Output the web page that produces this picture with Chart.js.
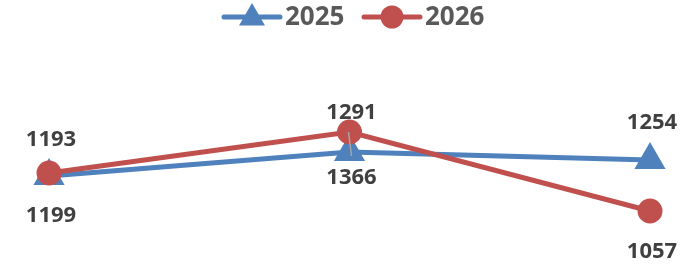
<!DOCTYPE html>
<html>
<head>
<meta charset="utf-8">
<script src="https://cdn.jsdelivr.net/npm/chart.js@4.4.1/dist/chart.umd.min.js"></script>
<style>
  html, body { margin: 0; padding: 0; background: #fff; }
  #grafico { display: block; }
</style>
</head>
<body>
<canvas id="grafico" width="692" height="270"></canvas>
<script>
// categorias (eixo oculto) e séries
const categorias = ["1", "2", "3"];
const serieNomes = ["2025", "2026"];
// altura de cada ponto numa escala oculta de 8 a 230
const valores2025 = [84, 108, 100];
const valores2026 = [87, 128, 49];
// rótulos mostrados junto aos pontos
const rotulos2025 = ["1199", "1366", "1254"];
const rotulos2026 = ["1193", "1291", "1057"];

const corAzul = "#4F81BD";
const corVermelha = "#C0504D";
const fonte = "'Open Sans', 'Liberation Sans', sans-serif";

// deslocamento vertical de cada rótulo em relação ao ponto
const deslocRotulos = [
  [40, 26, -37],
  [-33, -19, 41],
];

const pluginRotulos = {
  id: "rotulos",
  afterDatasetsDraw(chart) {
    const ctx = chart.ctx;
    ctx.save();

    // linha guia cinza do ponto do meio
    const a = chart.getDatasetMeta(1).data[1];
    const b = chart.getDatasetMeta(0).data[1];
    ctx.strokeStyle = "#A6A6A6";
    ctx.lineWidth = 1.5;
    ctx.beginPath();
    ctx.moveTo(a.x - 1, a.y);
    ctx.lineTo(b.x + 2, b.y + 4);
    ctx.stroke();

    ctx.font = "bold 22px " + fonte;
    ctx.fillStyle = "#404040";
    ctx.textAlign = "center";
    ctx.textBaseline = "middle";
    chart.data.datasets.forEach((ds, i) => {
      const meta = chart.getDatasetMeta(i);
      meta.data.forEach((pt, j) => {
        ctx.fillText(ds.rotulos[j], pt.x + 2, pt.y + deslocRotulos[i][j]);
      });
    });
    ctx.restore();
  },
};

const pluginLegenda = {
  id: "legendaLinha",
  afterDraw(chart) {
    const ctx = chart.ctx;
    const y = 17;
    const inicios = [224, 364];
    ctx.save();
    chart.data.datasets.forEach((ds, i) => {
      const x0 = inicios[i];
      ctx.strokeStyle = ds.borderColor;
      ctx.lineWidth = 5;
      ctx.lineCap = "round";
      ctx.beginPath();
      ctx.moveTo(x0, y);
      ctx.lineTo(x0 + 56, y);
      ctx.stroke();
      Chart.helpers.drawPoint(ctx, {
        pointStyle: ds.pointStyle,
        radius: ds.pointStyle === "triangle" ? 10 : 9,
        borderWidth: 1,
      }, x0 + 28, ds.pointStyle === "triangle" ? y + 1 : y);
      ctx.fillStyle = ds.borderColor;
      ctx.fill();
      ctx.font = "bold 26px " + fonte;
      ctx.fillStyle = "#595959";
      ctx.textAlign = "left";
      ctx.textBaseline = "middle";
      ctx.fillText(ds.label, x0 + 61, y + 1);
    });
    ctx.restore();
  },
};

const grafico = new Chart(document.getElementById("grafico"), {
  type: "line",
  data: {
    labels: categorias,
    datasets: [
      {
        label: serieNomes[0],
        data: valores2025,
        rotulos: rotulos2025,
        borderColor: corAzul,
        backgroundColor: corAzul,
        pointBackgroundColor: corAzul,
        pointBorderColor: corAzul,
        pointStyle: "triangle",
        pointRadius: 13,
        borderWidth: 5,
        tension: 0,
        order: 1,
      },
      {
        label: serieNomes[1],
        data: valores2026,
        rotulos: rotulos2026,
        borderColor: corVermelha,
        backgroundColor: corVermelha,
        pointBackgroundColor: corVermelha,
        pointBorderColor: corVermelha,
        pointStyle: "circle",
        pointRadius: 10,
        borderWidth: 5,
        tension: 0,
        order: 0,
      },
    ],
  },
  options: {
    responsive: false,
    animation: false,
    layout: { padding: { left: 49, right: 42, top: 30, bottom: 10 } },
    plugins: {
      legend: { display: false },
      tooltip: { enabled: false },
    },
    scales: {
      x: { display: false, offset: false },
      y: { display: false, min: 8, max: 230 },
    },
  },
  plugins: [pluginRotulos, pluginLegenda],
});
</script>
</body>
</html>
